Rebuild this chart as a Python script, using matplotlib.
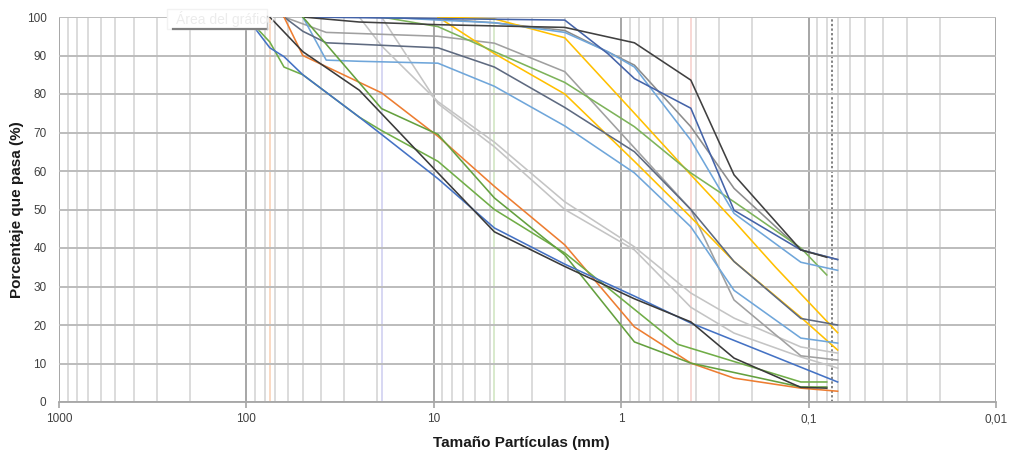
import matplotlib
matplotlib.use("Agg")
import matplotlib.pyplot as plt
from matplotlib.lines import Line2D
from matplotlib.patches import Rectangle

plt.rcParams["font.family"] = ["Liberation Sans", "DejaVu Sans"]

# sieve opening (mm) / percent passing, one pair per sample
BLUE_A_MM = [100, 75, 63, 50, 25, 19, 9.5, 4.75, 2, 0.85, 0.425, 0.07]
BLUE_A_PCT = [100, 92, 89.7, 85, 74, 69.5, 58, 45.2, 35.8, 27.5, 20.5, 5.2]
BLACK_A_MM = [75, 50, 25, 9.5, 4.75, 2, 0.85, 0.425, 0.25, 0.11, 0.08]
BLACK_A_PCT = [100, 91, 81, 59.5, 44.2, 35.2, 26.8, 20.8, 11.4, 3.8, 3.6]
ORANGE_MM = [63, 50, 19, 9.5, 4.75, 2, 0.85, 0.425, 0.25, 0.11, 0.07]
ORANGE_PCT = [100, 90, 80.3, 69, 56, 40.8, 19.5, 10.1, 6.2, 3.6, 2.8]
GREEN_A_MM = [100, 75, 63, 50, 25, 19, 9.5, 4.75, 2, 0.5, 0.11, 0.08]
GREEN_A_PCT = [100, 93.5, 87, 85, 74, 70.5, 62.5, 50, 38.7, 15, 5.2, 5.2]
GREEN_B_MM = [50, 19, 9.5, 4.75, 2, 0.85, 0.425, 0.11, 0.08]
GREEN_B_PCT = [100, 76.2, 69.5, 53, 38.2, 15.6, 10.1, 3.9, 3.9]
DKBLUE_MM = [50, 2, 1.18, 0.85, 0.425, 0.25, 0.11, 0.07]
DKBLUE_PCT = [100, 99.2, 90.5, 84, 76.3, 49.8, 39.5, 37]
BLACK_B_MM = [50, 25, 9.5, 2, 0.85, 0.425, 0.25, 0.11, 0.08]
BLACK_B_PCT = [100, 98.7, 98, 97.3, 93.3, 83.6, 59, 39.5, 37.6]
LTBLUE_A_MM = [19, 9.5, 4.75, 2, 1.18, 0.85, 0.425, 0.25, 0.11, 0.07]
LTBLUE_A_PCT = [100, 99.2, 98.5, 96, 91, 87, 68, 49, 36.3, 34.2]
GRAY_A_MM = [25, 9.5, 4.75, 2, 0.85, 0.425, 0.25, 0.11, 0.07]
GRAY_A_PCT = [100, 99.5, 98.5, 96.5, 87.5, 71.5, 55.5, 39.5, 37]
YELLOW_A_MM = [9.5, 4.75, 2, 0.85, 0.425, 0.25, 0.15, 0.07]
YELLOW_A_PCT = [100, 99.5, 94.6, 75, 59, 47, 35, 18]
YELLOW_B_MM = [9.5, 4.75, 2, 0.85, 0.425, 0.25, 0.11, 0.07]
YELLOW_B_PCT = [100, 90.5, 80, 62.5, 48, 36.5, 22, 13.5]
SLATE_MM = [63, 50, 37.5, 9.5, 4.75, 2, 0.85, 0.425, 0.25, 0.11, 0.07]
SLATE_PCT = [100, 96.3, 93.3, 92, 87, 76.5, 65, 50, 36.5, 21.7, 20]
LTBLUE_B_MM = [50, 37.5, 25, 9.5, 4.75, 2, 0.85, 0.425, 0.25, 0.11, 0.07]
LTBLUE_B_PCT = [100, 88.8, 88.5, 88, 82, 71.7, 59.5, 45.5, 29, 16.6, 15.3]
GRAY_B_MM = [63, 37.5, 9.5, 4.75, 2, 0.85, 0.425, 0.25, 0.11, 0.07]
GRAY_B_PCT = [100, 96, 95, 93.2, 85.8, 66, 50, 26.5, 12, 10.9]
GREEN_C_MM = [19, 9.5, 4.75, 2, 0.85, 0.425, 0.25, 0.11, 0.08]
GREEN_C_PCT = [100, 97.5, 91, 83, 71.5, 59.5, 52, 40, 33]
LTGRAY_A_MM = [25, 19, 9.5, 4.75, 2, 0.85, 0.425, 0.25, 0.11, 0.07]
LTGRAY_A_PCT = [100, 92.5, 78, 67.5, 52, 40.3, 28.3, 21.8, 14.3, 12.7]
LTGRAY_B_MM = [19, 9.5, 4.75, 2, 0.85, 0.425, 0.25, 0.11, 0.07]
LTGRAY_B_PCT = [100, 77.5, 66.3, 50, 39.5, 24.6, 17.9, 11.7, 8.8]

# reference sieve lines
REF_MM = [75, 19, 4.75, 2, 0.425]
REF_COLORS = ["#FAD7BE", "#D4D4F2", "#D5E8C8", "#D6E4F5", "#F8D6D2"]
FINES_MM = 0.075

X_TICKS = [1000, 100, 10, 1, 0.1, 0.01]
X_TICK_LABELS = ["1000", "100", "10", "1", "0,1", "0,01"]
Y_TICKS = list(range(0, 101, 10))

SERIES = [
    (LTGRAY_A_MM, LTGRAY_A_PCT, "#C4C4C4"),
    (LTGRAY_B_MM, LTGRAY_B_PCT, "#C4C4C4"),
    (GRAY_B_MM, GRAY_B_PCT, "#A0A0A0"),
    (GRAY_A_MM, GRAY_A_PCT, "#8C8C8C"),
    (YELLOW_A_MM, YELLOW_A_PCT, "#FFC000"),
    (YELLOW_B_MM, YELLOW_B_PCT, "#FFC000"),
    (GREEN_C_MM, GREEN_C_PCT, "#7DB35A"),
    (LTBLUE_A_MM, LTBLUE_A_PCT, "#6FA6DA"),
    (LTBLUE_B_MM, LTBLUE_B_PCT, "#6FA6DA"),
    (SLATE_MM, SLATE_PCT, "#5E6A80"),
    (DKBLUE_MM, DKBLUE_PCT, "#4463A8"),
    (BLACK_B_MM, BLACK_B_PCT, "#404040"),
    (ORANGE_MM, ORANGE_PCT, "#ED7D31"),
    (GREEN_A_MM, GREEN_A_PCT, "#70AD47"),
    (GREEN_B_MM, GREEN_B_PCT, "#64A03E"),
    (BLUE_A_MM, BLUE_A_PCT, "#4472C4"),
    (BLACK_A_MM, BLACK_A_PCT, "#3A3A3A"),
]


fig = plt.figure(figsize=(10.1, 4.54), dpi=100)
ax = fig.add_axes([59 / 1010, 1 - 402 / 454, 937 / 1010, 385 / 454])

ax.set_xscale("log")
ax.set_xlim(1000, 0.01)
ax.set_ylim(0, 100)

ax.set_xticks(X_TICKS)
ax.set_xticklabels(X_TICK_LABELS)
minor = [m * 10.0 ** e for e in range(-2, 3) for m in range(2, 10)]
ax.set_xticks(minor, minor=True)
ax.set_xticklabels([], minor=True)
ax.set_yticks(Y_TICKS)

ax.grid(which="minor", axis="x", color="#D9D9D9", linewidth=1.3, zorder=0)
ax.grid(which="major", axis="x", color="#A6A6A6", linewidth=1.4, zorder=0)
ax.grid(which="major", axis="y", color="#BCBCBC", linewidth=1.4, zorder=0)

for d, c in zip(REF_MM, REF_COLORS):
    ax.axvline(d, color=c, linewidth=1.3, zorder=1)
ax.axvline(FINES_MM, color="#606060", linewidth=1.1, linestyle=(0, (1.5, 1.5)), zorder=1)

for mm, pct, color in SERIES:
    ax.plot(mm, pct, color=color, linewidth=1.15, zorder=3)

for side in ["top", "right", "left"]:
    ax.spines[side].set_visible(False)
ax.spines["bottom"].set_color("#A6A6A6")
ax.spines["bottom"].set_linewidth(1.3)

ax.tick_params(axis="y", length=0, pad=9, labelsize=8.5, colors="#404040")
ax.tick_params(axis="x", which="major", length=4, width=1.2, color="#A6A6A6",
               pad=4, labelsize=8.5, labelcolor="#404040")
ax.tick_params(axis="x", which="minor", length=0)

ax.set_ylabel("Porcentaje que pasa (%)", fontsize=11, fontweight="bold", color="#1A1A1A")
ax.set_xlabel("Tamaño Partículas (mm)", fontsize=11, fontweight="bold", color="#1A1A1A")
ax.yaxis.set_label_coords(-0.037, 0.5)
ax.xaxis.set_label_coords(0.493, -0.088)

# faded chart-area tooltip left over in the screenshot
fig.patches.append(Rectangle((167 / 1010, 1 - 29 / 454), 100 / 1010, 20 / 454,
                             transform=fig.transFigure, facecolor="white",
                             edgecolor="#F2F2F2", linewidth=1.0, zorder=5))
fig.text(176 / 1010, 1 - 19 / 454, "Área del gráfico", fontsize=10,
         color="#ECECEC", va="center", zorder=6)
fig.lines.append(Line2D([173 / 1010, 267 / 1010], [1 - 29 / 454, 1 - 29 / 454],
                        transform=fig.transFigure, color="#808080", linewidth=1.6, zorder=6))
fig.lines.append(Line2D([267 / 1010, 267 / 1010], [1 - 16 / 454, 1 - 29 / 454],
                        transform=fig.transFigure, color="#C0C0C0", linewidth=1.0, zorder=6))

fig.savefig("out.png", dpi=100)
